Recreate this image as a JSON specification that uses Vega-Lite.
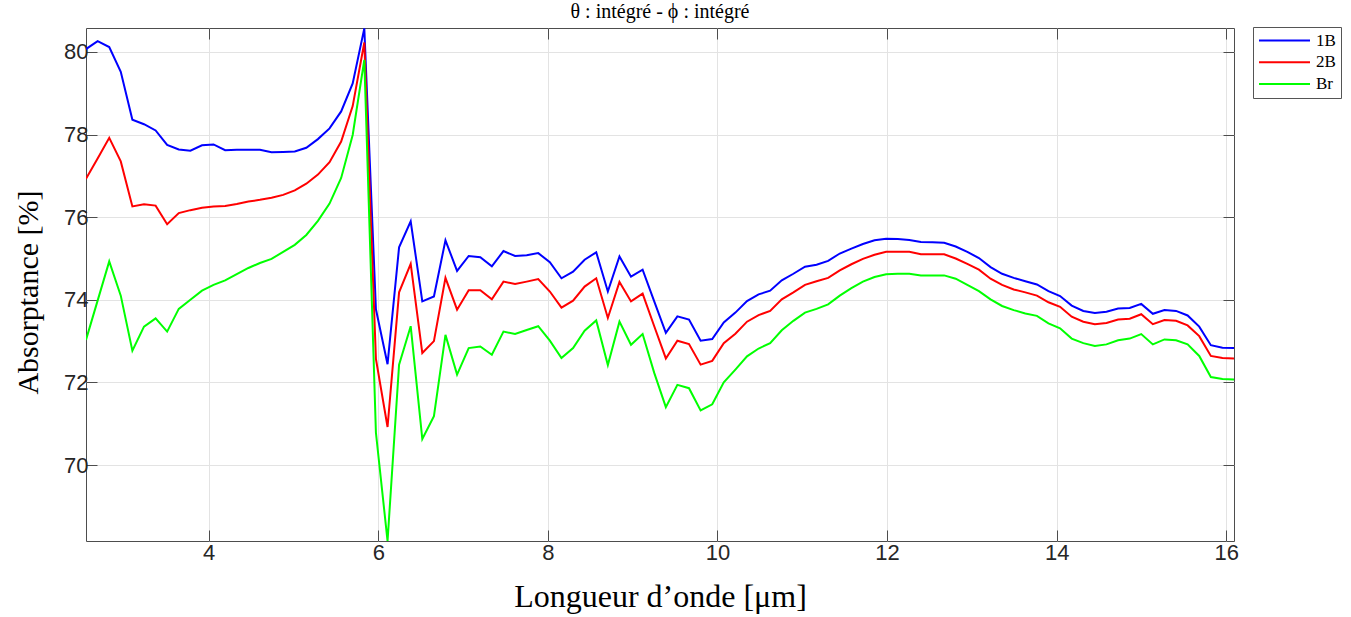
{
"$schema": "https://vega.github.io/schema/vega-lite/v6.json",
"width": 1148,
"height": 513,
"autosize": {"type": "none"},
"padding": {"left": 86, "top": 28, "right": 117, "bottom": 76},
"background": "white",
"title": {"text": "θ : intégré - ϕ : intégré", "font": "Liberation Serif", "fontSize": 20, "fontWeight": "normal", "color": "#000000", "anchor": "middle", "offset": 5},
"data": {"values": [
{"w":2.553,"s":"1B","a":80.07},{"w":2.690,"s":"1B","a":80.26},{"w":2.827,"s":"1B","a":80.12},{"w":2.963,"s":"1B","a":79.52},{"w":3.100,"s":"1B","a":78.36},{"w":3.237,"s":"1B","a":78.25},{"w":3.374,"s":"1B","a":78.10},{"w":3.510,"s":"1B","a":77.75},{"w":3.647,"s":"1B","a":77.64},{"w":3.784,"s":"1B","a":77.61},
{"w":3.921,"s":"1B","a":77.74},{"w":4.057,"s":"1B","a":77.76},{"w":4.194,"s":"1B","a":77.62},{"w":4.331,"s":"1B","a":77.63},{"w":4.468,"s":"1B","a":77.63},{"w":4.604,"s":"1B","a":77.63},{"w":4.741,"s":"1B","a":77.57},{"w":4.878,"s":"1B","a":77.58},{"w":5.015,"s":"1B","a":77.59},{"w":5.151,"s":"1B","a":77.68},
{"w":5.288,"s":"1B","a":77.89},{"w":5.425,"s":"1B","a":78.15},{"w":5.562,"s":"1B","a":78.56},{"w":5.698,"s":"1B","a":79.24},{"w":5.835,"s":"1B","a":80.57},{"w":5.972,"s":"1B","a":73.77},{"w":6.109,"s":"1B","a":72.44},{"w":6.245,"s":"1B","a":75.27},{"w":6.382,"s":"1B","a":75.90},{"w":6.519,"s":"1B","a":73.96},
{"w":6.656,"s":"1B","a":74.08},{"w":6.792,"s":"1B","a":75.44},{"w":6.929,"s":"1B","a":74.70},{"w":7.066,"s":"1B","a":75.06},{"w":7.203,"s":"1B","a":75.03},{"w":7.339,"s":"1B","a":74.81},{"w":7.476,"s":"1B","a":75.18},{"w":7.613,"s":"1B","a":75.06},{"w":7.750,"s":"1B","a":75.08},{"w":7.886,"s":"1B","a":75.13},
{"w":8.023,"s":"1B","a":74.91},{"w":8.160,"s":"1B","a":74.52},{"w":8.297,"s":"1B","a":74.68},{"w":8.433,"s":"1B","a":74.97},{"w":8.570,"s":"1B","a":75.15},{"w":8.707,"s":"1B","a":74.20},{"w":8.844,"s":"1B","a":75.05},{"w":8.980,"s":"1B","a":74.56},{"w":9.117,"s":"1B","a":74.73},{"w":9.254,"s":"1B","a":73.96},
{"w":9.391,"s":"1B","a":73.20},{"w":9.527,"s":"1B","a":73.60},{"w":9.664,"s":"1B","a":73.52},{"w":9.801,"s":"1B","a":73.01},{"w":9.938,"s":"1B","a":73.05},{"w":10.074,"s":"1B","a":73.45},{"w":10.211,"s":"1B","a":73.69},{"w":10.348,"s":"1B","a":73.97},{"w":10.485,"s":"1B","a":74.13},{"w":10.621,"s":"1B","a":74.22},
{"w":10.758,"s":"1B","a":74.47},{"w":10.895,"s":"1B","a":74.63},{"w":11.032,"s":"1B","a":74.80},{"w":11.168,"s":"1B","a":74.85},{"w":11.305,"s":"1B","a":74.94},{"w":11.442,"s":"1B","a":75.12},{"w":11.579,"s":"1B","a":75.24},{"w":11.715,"s":"1B","a":75.35},{"w":11.852,"s":"1B","a":75.44},{"w":11.989,"s":"1B","a":75.48},
{"w":12.126,"s":"1B","a":75.47},{"w":12.262,"s":"1B","a":75.45},{"w":12.399,"s":"1B","a":75.40},{"w":12.536,"s":"1B","a":75.39},{"w":12.673,"s":"1B","a":75.38},{"w":12.809,"s":"1B","a":75.29},{"w":12.946,"s":"1B","a":75.16},{"w":13.083,"s":"1B","a":75.01},{"w":13.220,"s":"1B","a":74.79},{"w":13.356,"s":"1B","a":74.63},
{"w":13.493,"s":"1B","a":74.53},{"w":13.630,"s":"1B","a":74.45},{"w":13.767,"s":"1B","a":74.37},{"w":13.903,"s":"1B","a":74.21},{"w":14.040,"s":"1B","a":74.09},{"w":14.177,"s":"1B","a":73.86},{"w":14.314,"s":"1B","a":73.73},{"w":14.450,"s":"1B","a":73.68},{"w":14.587,"s":"1B","a":73.71},{"w":14.724,"s":"1B","a":73.79},
{"w":14.861,"s":"1B","a":73.80},{"w":14.997,"s":"1B","a":73.90},{"w":15.134,"s":"1B","a":73.66},{"w":15.271,"s":"1B","a":73.75},{"w":15.408,"s":"1B","a":73.73},{"w":15.544,"s":"1B","a":73.62},{"w":15.681,"s":"1B","a":73.35},{"w":15.818,"s":"1B","a":72.90},{"w":15.955,"s":"1B","a":72.84},{"w":16.091,"s":"1B","a":72.83},
{"w":2.553,"s":"2B","a":76.93},{"w":2.690,"s":"2B","a":77.42},{"w":2.827,"s":"2B","a":77.92},{"w":2.963,"s":"2B","a":77.35},{"w":3.100,"s":"2B","a":76.26},{"w":3.237,"s":"2B","a":76.31},{"w":3.374,"s":"2B","a":76.28},{"w":3.510,"s":"2B","a":75.83},{"w":3.647,"s":"2B","a":76.10},{"w":3.784,"s":"2B","a":76.17},
{"w":3.921,"s":"2B","a":76.23},{"w":4.057,"s":"2B","a":76.26},{"w":4.194,"s":"2B","a":76.27},{"w":4.331,"s":"2B","a":76.32},{"w":4.468,"s":"2B","a":76.38},{"w":4.604,"s":"2B","a":76.42},{"w":4.741,"s":"2B","a":76.47},{"w":4.878,"s":"2B","a":76.54},{"w":5.015,"s":"2B","a":76.65},{"w":5.151,"s":"2B","a":76.81},
{"w":5.288,"s":"2B","a":77.03},{"w":5.425,"s":"2B","a":77.33},{"w":5.562,"s":"2B","a":77.83},{"w":5.698,"s":"2B","a":78.69},{"w":5.835,"s":"2B","a":80.23},{"w":5.972,"s":"2B","a":72.57},{"w":6.109,"s":"2B","a":70.92},{"w":6.245,"s":"2B","a":74.18},{"w":6.382,"s":"2B","a":74.87},{"w":6.519,"s":"2B","a":72.71},
{"w":6.656,"s":"2B","a":73.00},{"w":6.792,"s":"2B","a":74.53},{"w":6.929,"s":"2B","a":73.76},{"w":7.066,"s":"2B","a":74.23},{"w":7.203,"s":"2B","a":74.23},{"w":7.339,"s":"2B","a":74.01},{"w":7.476,"s":"2B","a":74.44},{"w":7.613,"s":"2B","a":74.38},{"w":7.750,"s":"2B","a":74.44},{"w":7.886,"s":"2B","a":74.50},
{"w":8.023,"s":"2B","a":74.20},{"w":8.160,"s":"2B","a":73.81},{"w":8.297,"s":"2B","a":73.98},{"w":8.433,"s":"2B","a":74.32},{"w":8.570,"s":"2B","a":74.52},{"w":8.707,"s":"2B","a":73.56},{"w":8.844,"s":"2B","a":74.43},{"w":8.980,"s":"2B","a":73.96},{"w":9.117,"s":"2B","a":74.15},{"w":9.254,"s":"2B","a":73.36},
{"w":9.391,"s":"2B","a":72.58},{"w":9.527,"s":"2B","a":73.01},{"w":9.664,"s":"2B","a":72.93},{"w":9.801,"s":"2B","a":72.43},{"w":9.938,"s":"2B","a":72.52},{"w":10.074,"s":"2B","a":72.95},{"w":10.211,"s":"2B","a":73.18},{"w":10.348,"s":"2B","a":73.47},{"w":10.485,"s":"2B","a":73.63},{"w":10.621,"s":"2B","a":73.73},
{"w":10.758,"s":"2B","a":74.01},{"w":10.895,"s":"2B","a":74.18},{"w":11.032,"s":"2B","a":74.36},{"w":11.168,"s":"2B","a":74.45},{"w":11.305,"s":"2B","a":74.53},{"w":11.442,"s":"2B","a":74.71},{"w":11.579,"s":"2B","a":74.86},{"w":11.715,"s":"2B","a":74.99},{"w":11.852,"s":"2B","a":75.09},{"w":11.989,"s":"2B","a":75.16},
{"w":12.126,"s":"2B","a":75.16},{"w":12.262,"s":"2B","a":75.16},{"w":12.399,"s":"2B","a":75.10},{"w":12.536,"s":"2B","a":75.10},{"w":12.673,"s":"2B","a":75.10},{"w":12.809,"s":"2B","a":75.00},{"w":12.946,"s":"2B","a":74.87},{"w":13.083,"s":"2B","a":74.73},{"w":13.220,"s":"2B","a":74.51},{"w":13.356,"s":"2B","a":74.36},
{"w":13.493,"s":"2B","a":74.25},{"w":13.630,"s":"2B","a":74.18},{"w":13.767,"s":"2B","a":74.10},{"w":13.903,"s":"2B","a":73.94},{"w":14.040,"s":"2B","a":73.83},{"w":14.177,"s":"2B","a":73.59},{"w":14.314,"s":"2B","a":73.47},{"w":14.450,"s":"2B","a":73.41},{"w":14.587,"s":"2B","a":73.44},{"w":14.724,"s":"2B","a":73.52},
{"w":14.861,"s":"2B","a":73.54},{"w":14.997,"s":"2B","a":73.65},{"w":15.134,"s":"2B","a":73.41},{"w":15.271,"s":"2B","a":73.51},{"w":15.408,"s":"2B","a":73.49},{"w":15.544,"s":"2B","a":73.38},{"w":15.681,"s":"2B","a":73.12},{"w":15.818,"s":"2B","a":72.64},{"w":15.955,"s":"2B","a":72.59},{"w":16.091,"s":"2B","a":72.58},
{"w":2.553,"s":"Br","a":73.03},{"w":2.690,"s":"Br","a":73.98},{"w":2.827,"s":"Br","a":74.93},{"w":2.963,"s":"Br","a":74.10},{"w":3.100,"s":"Br","a":72.77},{"w":3.237,"s":"Br","a":73.35},{"w":3.374,"s":"Br","a":73.55},{"w":3.510,"s":"Br","a":73.23},{"w":3.647,"s":"Br","a":73.78},{"w":3.784,"s":"Br","a":74.00},
{"w":3.921,"s":"Br","a":74.22},{"w":4.057,"s":"Br","a":74.36},{"w":4.194,"s":"Br","a":74.47},{"w":4.331,"s":"Br","a":74.62},{"w":4.468,"s":"Br","a":74.77},{"w":4.604,"s":"Br","a":74.89},{"w":4.741,"s":"Br","a":74.99},{"w":4.878,"s":"Br","a":75.16},{"w":5.015,"s":"Br","a":75.33},{"w":5.151,"s":"Br","a":75.57},
{"w":5.288,"s":"Br","a":75.91},{"w":5.425,"s":"Br","a":76.33},{"w":5.562,"s":"Br","a":76.95},{"w":5.698,"s":"Br","a":77.99},{"w":5.835,"s":"Br","a":79.81},{"w":5.972,"s":"Br","a":70.78},{"w":6.109,"s":"Br","a":68.16},{"w":6.245,"s":"Br","a":72.43},{"w":6.382,"s":"Br","a":73.36},{"w":6.519,"s":"Br","a":70.63},
{"w":6.656,"s":"Br","a":71.18},{"w":6.792,"s":"Br","a":73.15},{"w":6.929,"s":"Br","a":72.19},{"w":7.066,"s":"Br","a":72.83},{"w":7.203,"s":"Br","a":72.87},{"w":7.339,"s":"Br","a":72.67},{"w":7.476,"s":"Br","a":73.23},{"w":7.613,"s":"Br","a":73.17},{"w":7.750,"s":"Br","a":73.27},{"w":7.886,"s":"Br","a":73.36},
{"w":8.023,"s":"Br","a":73.01},{"w":8.160,"s":"Br","a":72.59},{"w":8.297,"s":"Br","a":72.83},{"w":8.433,"s":"Br","a":73.25},{"w":8.570,"s":"Br","a":73.50},{"w":8.707,"s":"Br","a":72.42},{"w":8.844,"s":"Br","a":73.47},{"w":8.980,"s":"Br","a":72.91},{"w":9.117,"s":"Br","a":73.17},{"w":9.254,"s":"Br","a":72.23},
{"w":9.391,"s":"Br","a":71.40},{"w":9.527,"s":"Br","a":71.94},{"w":9.664,"s":"Br","a":71.86},{"w":9.801,"s":"Br","a":71.32},{"w":9.938,"s":"Br","a":71.47},{"w":10.074,"s":"Br","a":72.00},{"w":10.211,"s":"Br","a":72.31},{"w":10.348,"s":"Br","a":72.63},{"w":10.485,"s":"Br","a":72.82},{"w":10.621,"s":"Br","a":72.95},
{"w":10.758,"s":"Br","a":73.26},{"w":10.895,"s":"Br","a":73.49},{"w":11.032,"s":"Br","a":73.69},{"w":11.168,"s":"Br","a":73.78},{"w":11.305,"s":"Br","a":73.89},{"w":11.442,"s":"Br","a":74.10},{"w":11.579,"s":"Br","a":74.28},{"w":11.715,"s":"Br","a":74.44},{"w":11.852,"s":"Br","a":74.55},{"w":11.989,"s":"Br","a":74.62},
{"w":12.126,"s":"Br","a":74.63},{"w":12.262,"s":"Br","a":74.63},{"w":12.399,"s":"Br","a":74.59},{"w":12.536,"s":"Br","a":74.59},{"w":12.673,"s":"Br","a":74.59},{"w":12.809,"s":"Br","a":74.51},{"w":12.946,"s":"Br","a":74.36},{"w":13.083,"s":"Br","a":74.21},{"w":13.220,"s":"Br","a":74.01},{"w":13.356,"s":"Br","a":73.85},
{"w":13.493,"s":"Br","a":73.75},{"w":13.630,"s":"Br","a":73.67},{"w":13.767,"s":"Br","a":73.61},{"w":13.903,"s":"Br","a":73.43},{"w":14.040,"s":"Br","a":73.31},{"w":14.177,"s":"Br","a":73.06},{"w":14.314,"s":"Br","a":72.95},{"w":14.450,"s":"Br","a":72.88},{"w":14.587,"s":"Br","a":72.92},{"w":14.724,"s":"Br","a":73.02},
{"w":14.861,"s":"Br","a":73.06},{"w":14.997,"s":"Br","a":73.17},{"w":15.134,"s":"Br","a":72.92},{"w":15.271,"s":"Br","a":73.04},{"w":15.408,"s":"Br","a":73.02},{"w":15.544,"s":"Br","a":72.92},{"w":15.681,"s":"Br","a":72.64},{"w":15.818,"s":"Br","a":72.13},{"w":15.955,"s":"Br","a":72.08},{"w":16.091,"s":"Br","a":72.07}
]},
"layer": [
{
"mark": {"type": "line", "strokeWidth": 2, "clip": true},
"encoding": {
"x": {"field": "w", "type": "quantitative",
"scale": {"domain": [2.553, 16.091], "nice": false, "zero": false},
"axis": {"values": [4, 6, 8, 10, 12, 14, 16], "title": "Longueur d’onde [μm]", "titleFont": "Liberation Serif", "titleFontSize": 32, "titleFontWeight": "normal", "titleColor": "#000000", "titlePadding": 18, "labelFont": "Liberation Sans", "labelFontSize": 22, "labelColor": "#262626", "labelPadding": 12, "tickSize": -11, "tickColor": "#4d4d4d", "domain": false, "grid": true, "gridColor": "#e3e3e3", "labelFlush": false}},
"y": {"field": "a", "type": "quantitative",
"scale": {"domain": [68.16, 80.58], "nice": false, "zero": false},
"axis": {"values": [70, 72, 74, 76, 78, 80], "title": "Absorptance [%]", "titleFont": "Liberation Serif", "titleFontSize": 30, "titleFontWeight": "normal", "titleColor": "#000000", "titlePadding": 20, "titleY": 264, "labelFont": "Liberation Sans", "labelFontSize": 22, "labelColor": "#262626", "labelPadding": 9, "tickSize": -11, "tickColor": "#4d4d4d", "domain": false, "grid": true, "gridColor": "#e3e3e3", "labelFlush": false}},
"color": {"field": "s", "type": "nominal",
"scale": {"domain": ["1B", "2B", "Br"], "range": ["#0000ff", "#ff0000", "#00ff00"]},
"legend": {"title": null, "orient": "none", "legendX": 1167, "legendY": -1, "symbolType": "stroke", "symbolSize": 2601, "symbolStrokeWidth": 2, "clipHeight": 17, "labelFont": "Liberation Serif", "labelFontSize": 17, "labelColor": "#000000", "labelOffset": 5, "strokeColor": "#555555", "fillColor": "#ffffff", "padding": 5, "rowPadding": 3.7}}
}
},
{
"mark": {"type": "line", "opacity": 0},
"encoding": {
"x": {"field": "w", "type": "quantitative",
"scale": {"domain": [2.553, 16.091], "nice": false, "zero": false},
"axis": {"orient": "top", "values": [4, 6, 8, 10, 12, 14, 16], "title": null, "labels": false, "tickSize": -11, "tickColor": "#4d4d4d", "domain": false, "grid": false}},
"y": {"field": "a", "type": "quantitative",
"scale": {"domain": [68.16, 80.58], "nice": false, "zero": false},
"axis": {"orient": "right", "values": [70, 72, 74, 76, 78, 80], "title": null, "labels": false, "tickSize": -11, "tickColor": "#4d4d4d", "domain": false, "grid": false}},
"detail": {"field": "s", "type": "nominal"}
}
}
],
"resolve": {"axis": {"x": "independent", "y": "independent"}},
"config": {
"font": "Liberation Sans",
"view": {"stroke": "#4d4d4d", "strokeWidth": 1}
}
}
